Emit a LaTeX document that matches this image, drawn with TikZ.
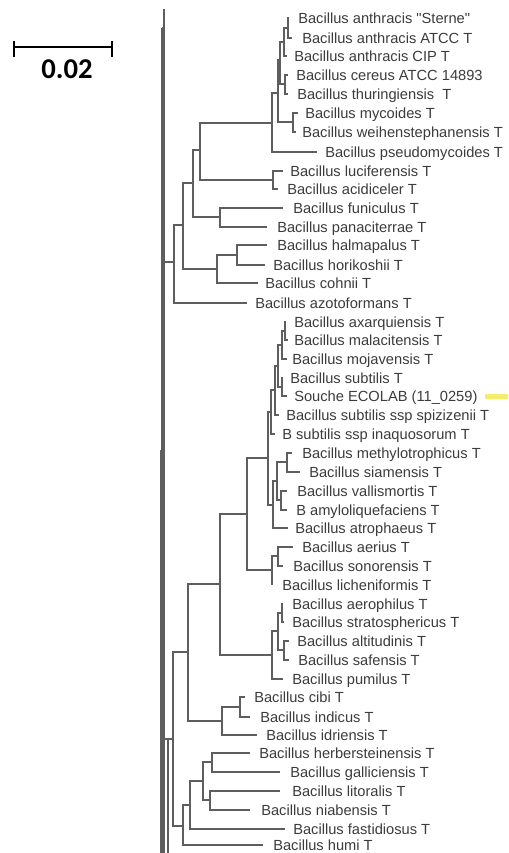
\documentclass[tikz,border=0pt]{standalone}
\usepackage{fontspec}
\setmainfont{Liberation Sans}
\newfontfamily\leaffont{Liberation Sans}
\newfontfamily\calfont{Carlito}
\definecolor{brc}{HTML}{5E5E5E}
\definecolor{txc}{HTML}{3C3C3C}
\definecolor{hlc}{HTML}{F4EC6A}
\newcommand\mkleaf[6]{%
  \node[leaf] (#1) at (#3,#2+5) {#6};
  \coordinate (#1e) at (#4,#2);
  \draw[br] (#5) |- (#1e);}
\begin{document}
\begin{tikzpicture}[x=0.75pt,y=-0.75pt,
  br/.style={draw=brc,line width=1pt},
  leaf/.style={anchor=base west,inner sep=0pt,text=txc,font=\leaffont\fontsize{11}{13}\selectfont}]
\fill[white] (0,0) rectangle (509,853);
\useasboundingbox (0,0) rectangle (509,853);

% scale bar
\coordinate (sbl) at (14,47);
\coordinate (sbr) at (112,47);
\coordinate (sblt) at (14,41);
\coordinate (sblb) at (14,57);
\coordinate (sbrt) at (112,41);
\coordinate (sbrb) at (112,57);
\draw[line width=1.5pt] (sbl) -- (sbr);
\draw[line width=1.5pt] (sblt) -- (sblb);
\draw[line width=1.5pt] (sbrt) -- (sbrb);
\node[inner sep=0pt,font=\calfont\bfseries\fontsize{21.5}{24}\selectfont] (sbt) at (67,69) {0.02};

% root lines
\coordinate (r0) at (164,9);
\coordinate (r1) at (164,853);
\coordinate (r2) at (162,28);
\coordinate (r3) at (162,853);
\coordinate (r4) at (161,450);
\coordinate (r5) at (161,853);
\draw[br] (r0) -- (r1);
\draw[br] (r2) -- (r3);
\draw[br] (r2) -- (r2 -| r0);
\draw[br] (r4) -- (r5);

% ===== upper clade =====
\coordinate (A) at (174,262);
\coordinate (B) at (183,225);
\coordinate (C) at (193,183);
\coordinate (D) at (200,150);
\coordinate (E) at (272,123);
\coordinate (E2) at (278,93);
\coordinate (E3) at (280,60);
\coordinate (AN) at (284,42);
\coordinate (ST) at (288,28);
\coordinate (CT) at (285,84);
\coordinate (MW) at (293,122);
\coordinate (LA) at (273,180);
\coordinate (FP) at (220,217);
\coordinate (HC) at (217,269);
\coordinate (HH) at (237,255);

\draw[br] (A) -- (A -| r0);
\draw[br] (A) |- (B);
\draw[br] (B) |- (C);
\draw[br] (B) |- (HC);
\draw[br] (C) |- (D);
\draw[br] (C) |- (FP);
\draw[br] (D) |- (E);
\draw[br] (D) |- (LA);
\draw[br] (E) |- (E2);
\draw[br] (E2) |- (E3);
\draw[br] (E2) |- (MW);
\draw[br] (E3) |- (AN);
\draw[br] (E3) |- (CT);
\draw[br] (AN) |- (ST);
\draw[br] (HC) |- (HH);

\mkleaf{sterne}{18}{298}{289}{ST}{Bacillus anthracis "Sterne"}
\mkleaf{anatcc}{38}{302}{292}{ST}{Bacillus anthracis ATCC T}
\mkleaf{ancip}{56}{294}{287}{AN}{Bacillus anthracis CIP T}
\mkleaf{cereus}{75}{296}{288}{CT}{Bacillus cereus ATCC 14893}
\mkleaf{thur}{94}{297}{288}{CT}{Bacillus thuringiensis\ \ T}
\mkleaf{myco}{113}{305}{298}{MW}{Bacillus mycoides T}
\mkleaf{weih}{132}{302}{296}{MW}{Bacillus weihenstephanensis T}
\mkleaf{pseudo}{152}{325}{317}{E}{Bacillus pseudomycoides T}
\mkleaf{lucif}{171}{290}{283}{LA}{Bacillus luciferensis T}
\mkleaf{acid}{189}{287}{278}{LA}{Bacillus acidiceler T}
\mkleaf{funic}{208}{293}{283}{FP}{Bacillus funiculus T}
\mkleaf{panac}{227}{277}{267}{FP}{Bacillus panaciterrae T}
\mkleaf{halm}{245}{277}{267}{HH}{Bacillus halmapalus T}
\mkleaf{hori}{265}{273}{265}{HH}{Bacillus horikoshii T}
\mkleaf{cohnii}{283}{265}{258}{HC}{Bacillus cohnii T}
\mkleaf{azoto}{303}{255}{247}{A}{Bacillus azotoformans T}

% ===== lower clade =====
\coordinate (P1) at (285,331);
\coordinate (P2) at (282,345);
\coordinate (P4) at (282,387);
\coordinate (P3) at (278,366);
\coordinate (P5) at (275,390);
\coordinate (P6) at (271,412);
\coordinate (Q1) at (287,462);
\coordinate (Q2) at (281,500);
\coordinate (Q3) at (277,481);
\coordinate (Q4) at (273,505);
\coordinate (F) at (268,458);
\coordinate (AS2) at (278,556);
\coordinate (AS) at (272,570);
\coordinate (G) at (247,514);
\coordinate (PA) at (282,613);
\coordinate (PB) at (284,650);
\coordinate (PB2) at (278,631);
\coordinate (PU) at (272,655);
\coordinate (H) at (220,584);
\coordinate (CI2) at (240,707);
\coordinate (CII) at (222,721);
\coordinate (I) at (188,652);
\coordinate (HB) at (212,762);
\coordinate (LN) at (210,800);
\coordinate (HG) at (203,781);
\coordinate (HF) at (190,805);
\coordinate (HU) at (183,826);
\coordinate (J) at (173,739);
\coordinate (K) at (168,739);
\coordinate (Kb) at (168,853);

\draw[br] (K) -- (K -| r0);
\draw[br] (K) -- (Kb);
\draw[br] (K) -- (J);
\draw[br] (J) |- (I);
\draw[br] (J) |- (HU);
\draw[br] (I) |- (H);
\draw[br] (I) |- (CII);
\draw[br] (H) |- (G);
\draw[br] (H) |- (PU);
\draw[br] (G) |- (F);
\draw[br] (G) |- (AS);
\draw[br] (F) |- (P6);
\draw[br] (F) |- (Q4);
\draw[br] (P6) |- (P5);
\draw[br] (P5) |- (P3);
\draw[br] (P3) |- (P2);
\draw[br] (P3) |- (P4);
\draw[br] (P2) |- (P1);
\draw[br] (Q4) |- (Q3);
\draw[br] (Q3) |- (Q1);
\draw[br] (Q3) |- (Q2);
\draw[br] (AS) |- (AS2);
\draw[br] (PU) |- (PB2);
\draw[br] (PB2) |- (PA);
\draw[br] (PB2) |- (PB);
\draw[br] (CII) |- (CI2);
\draw[br] (HU) |- (HF);
\draw[br] (HF) |- (HG);
\draw[br] (HG) |- (HB);
\draw[br] (HG) |- (LN);

\mkleaf{axar}{322}{294}{286}{P1}{Bacillus axarquiensis T}
\mkleaf{mala}{340}{294}{288}{P1}{Bacillus malacitensis T}
\mkleaf{moja}{359}{292}{287}{P2}{Bacillus mojavensis T}
\mkleaf{subt}{378}{290}{283}{P4}{Bacillus subtilis T}
\mkleaf{souche}{396}{294}{287}{P4}{Souche ECOLAB (11\_0259)}
\mkleaf{spiz}{415}{286}{279}{P5}{Bacillus subtilis ssp spizizenii T}
\mkleaf{inaq}{434}{282}{275}{P6}{B subtilis ssp inaquosorum T}
\mkleaf{meth}{453}{302}{292}{Q1}{Bacillus methylotrophicus T}
\mkleaf{siam}{472}{309}{300}{Q1}{Bacillus siamensis T}
\mkleaf{vall}{491}{297}{287}{Q2}{Bacillus vallismortis T}
\mkleaf{amy}{510}{296}{287}{Q2}{B amyloliquefaciens T}
\mkleaf{atro}{528}{295}{288}{Q4}{Bacillus atrophaeus T}
\mkleaf{aerius}{547}{302}{293}{AS2}{Bacillus aerius T}
\mkleaf{sonor}{566}{293}{283}{AS2}{Bacillus sonorensis T}
\mkleaf{lichen}{585}{282}{272}{AS}{Bacillus licheniformis T}
\mkleaf{aeroph}{604}{292}{283}{PA}{Bacillus aerophilus T}
\mkleaf{strat}{622}{292}{284}{PA}{Bacillus stratosphericus T}
\mkleaf{alt}{641}{297}{289}{PB}{Bacillus altitudinis T}
\mkleaf{saf}{660}{298}{289}{PB}{Bacillus safensis T}
\mkleaf{pum}{679}{292}{283}{PU}{Bacillus pumilus T}
\mkleaf{cibi}{697}{254}{245}{CI2}{Bacillus cibi T}
\mkleaf{indicus}{717}{260}{250}{CI2}{Bacillus indicus T}
\mkleaf{idri}{735}{266}{257}{CII}{Bacillus idriensis T}
\mkleaf{herb}{753}{259}{250}{HB}{Bacillus herbersteinensis T}
\mkleaf{gall}{772}{290}{280}{HB}{Bacillus galliciensis T}
\mkleaf{litor}{791}{292}{280}{LN}{Bacillus litoralis T}
\mkleaf{niab}{810}{261}{250}{LN}{Bacillus niabensis T}
\mkleaf{fastid}{829}{293}{285}{HF}{Bacillus fastidiosus T}
\mkleaf{humi}{845}{273}{263}{HU}{Bacillus humi T}

% highlight mark
\fill[hlc, rounded corners=0.75pt] (485,394) rectangle (508,399);
\end{tikzpicture}
\end{document}
